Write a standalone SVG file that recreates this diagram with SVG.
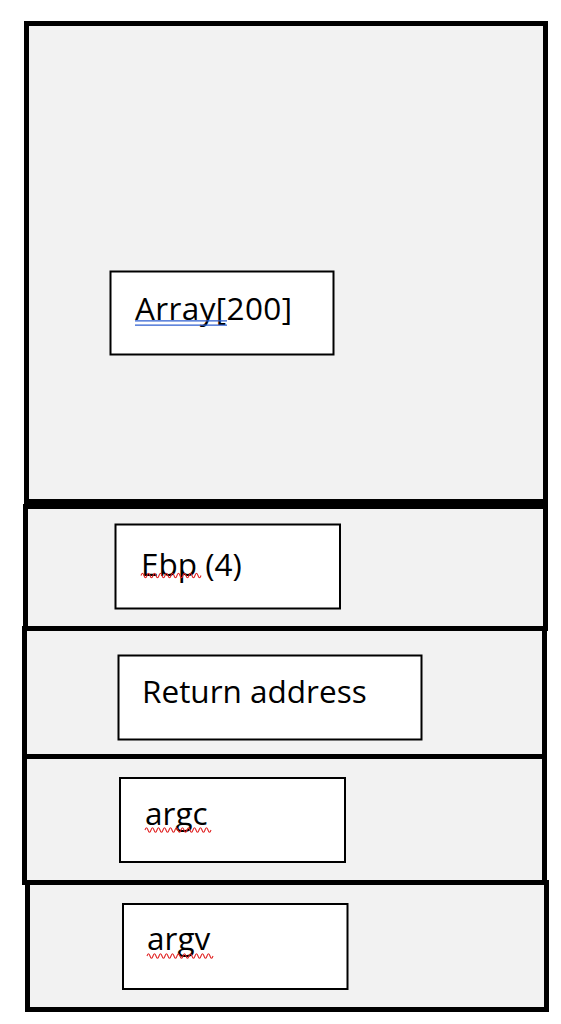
<svg xmlns="http://www.w3.org/2000/svg" width="561" height="1024" viewBox="0 0 561 1024">
<style>
.frame{fill:#f2f2f2;stroke:#000;stroke-width:5}
.box{fill:#fff;stroke:#000;stroke-width:2}
.lbl{font-family:"Open Sans","Liberation Sans",sans-serif;font-size:31.5px;fill:#000}
.sq{fill:none;stroke:#e02020;stroke-width:1.1}
.ul{fill:none;stroke:#2f5fd0;stroke-width:1.3}
</style>
<rect width="561" height="1024" fill="#fff"/>
<g id="frame-array"><rect class="frame" x="26.5" y="23.5" width="519" height="478"/></g>
<g id="frame-ebp"><rect class="frame" x="25.5" y="506.5" width="520" height="122"/></g>
<g id="frame-ret"><rect class="frame" x="24.5" y="628.5" width="520" height="128"/></g>
<g id="frame-argc"><rect class="frame" x="24.5" y="756.5" width="520" height="126"/></g>
<g id="frame-argv"><rect class="frame" x="27.5" y="882.5" width="519" height="127"/></g>
<g id="connectors"></g>
<g id="node-array">
<rect class="box" x="110.5" y="271.5" width="223" height="83"/>
<text class="lbl" x="135" y="319.5" textLength="157" lengthAdjust="spacing">Array[200]</text>
<path class="ul" d="M135 320.8H227M135 325.2H227"/>
</g>
<g id="node-ebp">
<rect class="box" x="115.5" y="524.5" width="224.5" height="84"/>
<text class="lbl" x="141" y="576">Ebp (4)</text>
<path class="sq" d="M141 575.5q1.5 -4.5 3 0t3 0t3 0t3 0t3 0t3 0t3 0t3 0t3 0t3 0t3 0t3 0t3 0t3 0t3 0t3 0t3 0t3 0t3 0t3 0"/>
</g>
<g id="node-ret">
<rect class="box" x="118.5" y="655.5" width="303" height="84"/>
<text class="lbl" x="142" y="702.5">Return address</text>
</g>
<g id="node-argc">
<rect class="box" x="120" y="778" width="225" height="84"/>
<text class="lbl" x="145" y="825">argc</text>
<path class="sq" d="M145 830q1.5 -4.5 3 0t3 0t3 0t3 0t3 0t3 0t3 0t3 0t3 0t3 0t3 0t3 0t3 0t3 0t3 0t3 0t3 0t3 0t3 0t3 0t3 0t3 0"/>
</g>
<g id="node-argv">
<rect class="box" x="123" y="904" width="224.5" height="85"/>
<text class="lbl" x="147" y="950">argv</text>
<path class="sq" d="M147 956q1.5 -4.5 3 0t3 0t3 0t3 0t3 0t3 0t3 0t3 0t3 0t3 0t3 0t3 0t3 0t3 0t3 0t3 0t3 0t3 0t3 0t3 0t3 0t3 0"/>
</g>
</svg>
